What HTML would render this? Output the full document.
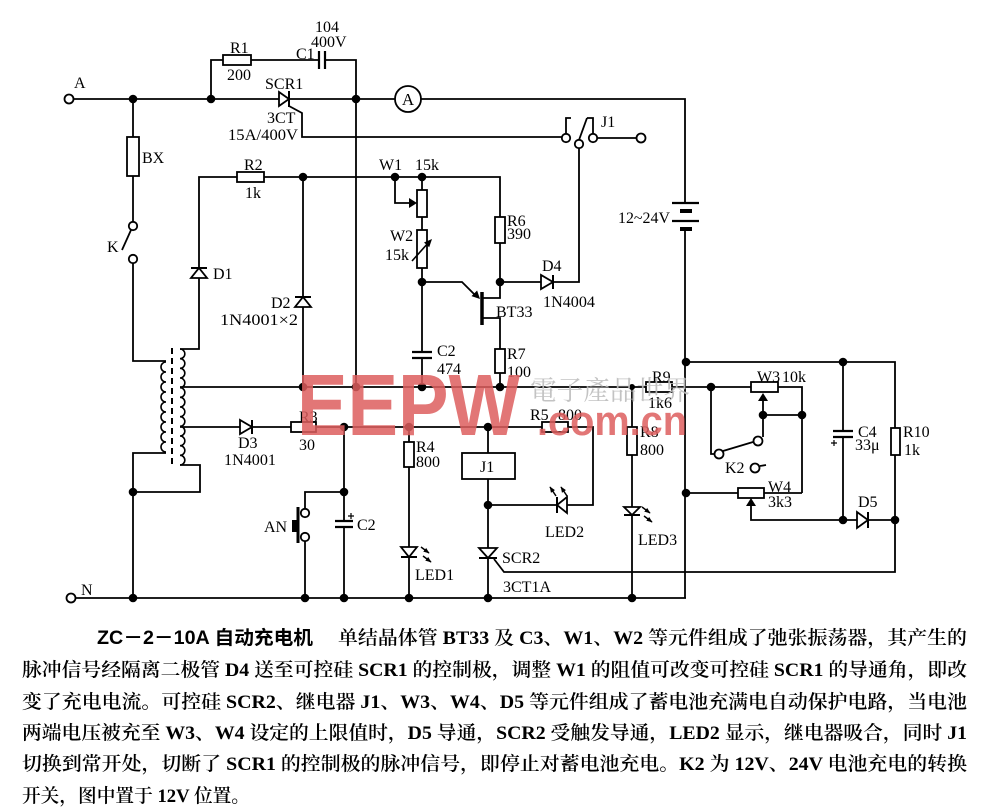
<!DOCTYPE html>
<html>
<head>
<meta charset="utf-8">
<style>
  html,body{margin:0;padding:0;background:#fff;}
  svg{display:block;}
  .t{font-family:"Liberation Serif","Noto Serif CJK SC",serif;font-size:16px;fill:#000;}
  .c{font-family:"Liberation Serif","Noto Serif CJK SC",serif;font-size:19px;fill:#000;font-weight:600;}
  .h{font-family:"Liberation Sans","Noto Sans CJK SC",sans-serif;font-size:19px;fill:#000;font-weight:bold;}
</style>
</head>
<body>
<svg width="986" height="811" viewBox="0 0 986 811" xmlns="http://www.w3.org/2000/svg">
<defs>
  <marker id="ah" viewBox="0 0 10 10" refX="9" refY="5" markerWidth="6" markerHeight="6" markerUnits="userSpaceOnUse" orient="auto">
    <path d="M0,1 L10,5 L0,9 z" fill="#000"/>
  </marker>
</defs>
<rect width="986" height="811" fill="#fff"/>

<!-- WIRES -->
<g stroke="#000" stroke-width="1.8" fill="none" stroke-linejoin="miter">
  <path d="M74,99 H280"/>
  <path d="M288,99 H395"/>
  <path d="M421,99 H685 V203"/>
  <path d="M211,99 V60 H223"/>
  <path d="M251,60 H319"/>
  <path d="M325,60 H356 V387"/>
  <path d="M289,106 L302,113 V137 H562"/>
  <path d="M597,138 H637"/>
  <path d="M566,134 V118 H571"/>
  <path d="M593,134 V118 H587"/>
  <path d="M579,140 L587,118"/>
  <path d="M579,148 V282 H500"/>
  <path d="M685,229 V598"/>
  <path d="M133,99 V222"/>
  <path d="M133,263 V361 H166"/>
  <path d="M166,453 H133 V598"/>
  <path d="M122,250 L131,230"/>
  <path d="M180,349 H199 V177 H500 V282"/>
  <path d="M180,387 H751"/>
  <path d="M778,387 H802 V493"/>
  <path d="M180,427 H593 V505 H488"/>
  <path d="M180,465 H200 V492 H133"/>
  <path d="M303,177 V387"/>
  <path d="M422,177 V352"/>
  <path d="M422,358 V387"/>
  <path d="M395,177 V203 H411"/>
  <path d="M422,282 H462 L475,295"/>
  <path d="M482,298 H500 V282"/>
  <path d="M482,318 H500 V387"/>
  <path d="M488,427 V598"/>
  <path d="M494,559 L504,572 H895 V362 H686"/>
  <path d="M409,427 V598"/>
  <path d="M344,427 V521"/>
  <path d="M344,527 V598"/>
  <path d="M344,492 H305 V509"/>
  <path d="M305,541 V598"/>
  <path d="M632,387 V598"/>
  <path d="M75,598 H686"/>
  <path d="M843,362 V431"/>
  <path d="M843,437 V520 H895"/>
  <path d="M686,493 H802"/>
  <path d="M751,505 V520 H843"/>
  <path d="M763,400 V437"/>
  <path d="M763,415 H802"/>
  <path d="M711,387 V454 H715"/>
  <path d="M723,451 L753,442"/>
  <path d="M760,466 L766,465"/>
  <!-- core -->
  <path d="M172,348 V466" stroke-dasharray="6,4" stroke-width="2"/>
  <!-- primary coil -->
  <path d="M166,362 a5,5 0 0 0 0,10 a5,5 0 0 0 0,10 a5,5 0 0 0 0,10 a5,5 0 0 0 0,10 a5,5 0 0 0 0,10 a5,5 0 0 0 0,10 a5,5 0 0 0 0,10 a5,5 0 0 0 0,10 a5,5 0 0 0 0,10" stroke-width="1.6"/>
  <!-- secondary coil -->
  <path d="M180,349 a4.83,4.83 0 0 1 0,9.667 a4.83,4.83 0 0 1 0,9.667 a4.83,4.83 0 0 1 0,9.667 a4.83,4.83 0 0 1 0,9.667 a4.83,4.83 0 0 1 0,9.667 a4.83,4.83 0 0 1 0,9.667 a4.83,4.83 0 0 1 0,9.667 a4.83,4.83 0 0 1 0,9.667 a4.83,4.83 0 0 1 0,9.667 a4.83,4.83 0 0 1 0,9.667 a4.83,4.83 0 0 1 0,9.667 a4.83,4.83 0 0 1 0,9.667" stroke-width="1.6"/>
</g>

<!-- COMPONENTS -->
<g stroke="#000" stroke-width="1.8" fill="#fff">
  <!-- resistors -->
  <rect x="223" y="55" width="28" height="10"/>
  <rect x="237" y="172" width="27" height="10"/>
  <rect x="127" y="137" width="12" height="39"/>
  <rect x="495" y="217" width="10" height="26"/>
  <rect x="417" y="190" width="10" height="27"/>
  <rect x="417" y="230" width="10" height="38"/>
  <rect x="495" y="349" width="10" height="24"/>
  <rect x="291" y="422" width="25" height="10"/>
  <rect x="542" y="422" width="26" height="10"/>
  <rect x="404" y="442" width="10" height="25"/>
  <rect x="627" y="427" width="10" height="28"/>
  <rect x="646" y="382" width="26" height="10"/>
  <rect x="751" y="382" width="27" height="10"/>
  <rect x="738" y="488" width="26" height="10"/>
  <rect x="891" y="428" width="9" height="27"/>
  <rect x="462" y="453" width="53" height="26"/>
  <!-- terminals / contacts -->
  <circle cx="69" cy="99" r="4.5"/>
  <circle cx="71" cy="598" r="4.5"/>
  <circle cx="133" cy="226" r="4.2"/>
  <circle cx="133" cy="259" r="4.2"/>
  <circle cx="566" cy="138" r="4.2"/>
  <circle cx="593" cy="138" r="4.2"/>
  <circle cx="579" cy="144" r="4.2"/>
  <circle cx="641" cy="138" r="4.5"/>
  <circle cx="305" cy="513" r="4.2"/>
  <circle cx="305" cy="537" r="4.2"/>
  <circle cx="719" cy="454" r="4.5"/>
  <circle cx="758" cy="441" r="4.5"/>
  <circle cx="755" cy="468" r="4.5"/>
  <circle cx="408" cy="99" r="13"/>
  <!-- diodes -->
  <polygon points="191,278 207,278 199,268"/>
  <polygon points="295,307 311,307 303,297"/>
  <polygon points="240,420 240,434 252,427"/>
  <polygon points="541,275 541,289 553,282"/>
  <polygon points="857,512 857,528 868,520"/>
  <polygon points="567,497 567,513 557,505"/>
  <polygon points="279,92 279,106 289,99"/>
  <polygon points="401,547 417,547 409,557"/>
  <polygon points="479,548 497,548 488,558"/>
  <polygon points="624,507 640,507 632,515"/>
</g>
<g stroke="#000" stroke-width="2" fill="none">
  <path d="M191,268 H207"/>
  <path d="M295,297 H311"/>
  <path d="M252,420 V434"/>
  <path d="M553,275 V289"/>
  <path d="M868,512 V528"/>
  <path d="M557,497 V513"/>
  <path d="M289,91 V107"/>
  <path d="M401,557 H417"/>
  <path d="M479,558 H497"/>
  <path d="M624,515 H640"/>
  <!-- capacitors -->
  <path d="M319,51 V69 M325,51 V69" stroke-width="2.2"/>
  <path d="M412,352 H432 M412,358 H432" stroke-width="2.2"/>
  <path d="M335,521 H353 M335,527 H353" stroke-width="2.2"/>
  <path d="M833,431 H853 M833,437 H853" stroke-width="2.2"/>
  <path d="M348,516 H354 M351,513 V519" stroke-width="1.2"/>
  <path d="M831,443 H837 M834,440 V446" stroke-width="1.2"/>
  <!-- battery -->
  <path d="M672,203 H699 M672,221 H699" stroke-width="2.2"/>
  <path d="M680,211 H692 M680,229 H692" stroke-width="4"/>
  <!-- UJT bar -->
  <path d="M482,292 V325" stroke-width="3.5"/>
  <!-- AN push button -->
  <path d="M298,507 V543" stroke-width="3"/>
  <!-- W2 variable -->
  <path d="M412,261 L429,242" stroke-width="1.6"/>
  <!-- LED arrows -->
  <path d="M421,547 L429,553" stroke-width="1.5" marker-end="url(#ah)"/>
  <path d="M423,556 L431,562" stroke-width="1.5" marker-end="url(#ah)"/>
  <path d="M642,507 L650,513" stroke-width="1.5" marker-end="url(#ah)"/>
  <path d="M644,516 L652,522" stroke-width="1.5" marker-end="url(#ah)"/>
  <path d="M556,496 L550,487" stroke-width="1.5" marker-end="url(#ah)"/>
  <path d="M567,496 L561,487" stroke-width="1.5" marker-end="url(#ah)"/>
</g>
<g fill="#000">
  <rect x="292" y="520" width="6" height="12"/>
  <polygon points="417,203 409,198 409,208"/>
  <polygon points="763,393 758,401 768,401"/>
  <polygon points="751,498 746,506 756,506"/>
  <polygon points="480,299 477.1,290.5 471.5,296.1"/>
  <polygon points="432,239 429.2,247.3 424,242.5"/>
  <!-- junctions -->
  <circle cx="133" cy="99" r="4.3"/>
  <circle cx="211" cy="99" r="4.3"/>
  <circle cx="356" cy="99" r="4.3"/>
  <circle cx="303" cy="177" r="4.3"/>
  <circle cx="395" cy="177" r="4.3"/>
  <circle cx="422" cy="177" r="4.3"/>
  <circle cx="422" cy="282" r="4.3"/>
  <circle cx="500" cy="282" r="4.3"/>
  <circle cx="303" cy="387" r="4.3"/>
  <circle cx="356" cy="387" r="4.3"/>
  <circle cx="422" cy="387" r="4.3"/>
  <circle cx="500" cy="387" r="4.3"/>
  <circle cx="711" cy="387" r="4.3"/>
  <circle cx="632" cy="387" r="3"/>
  <circle cx="344" cy="427" r="4.3"/>
  <circle cx="409" cy="427" r="4.3"/>
  <circle cx="488" cy="427" r="4.3"/>
  <circle cx="133" cy="492" r="4.3"/>
  <circle cx="344" cy="492" r="4.3"/>
  <circle cx="488" cy="505" r="4.3"/>
  <circle cx="133" cy="598" r="4.3"/>
  <circle cx="305" cy="598" r="4.3"/>
  <circle cx="344" cy="598" r="4.3"/>
  <circle cx="409" cy="598" r="4.3"/>
  <circle cx="488" cy="598" r="4.3"/>
  <circle cx="632" cy="598" r="4.3"/>
  <circle cx="686" cy="362" r="4.3"/>
  <circle cx="843" cy="362" r="4.3"/>
  <circle cx="686" cy="493" r="4.3"/>
  <circle cx="763" cy="415" r="4.3"/>
  <circle cx="802" cy="415" r="4.3"/>
  <circle cx="843" cy="520" r="4.3"/>
  <circle cx="895" cy="520" r="4.3"/>
</g>

<!-- LABELS -->
<g class="t">
  <text x="74" y="88">A</text>
  <text x="81" y="595">N</text>
  <text x="230" y="53">R1</text>
  <text x="227" y="80">200</text>
  <text x="296" y="59">C1</text>
  <text x="315" y="32">104</text>
  <text x="311" y="47">400V</text>
  <text x="265" y="89">SCR1</text>
  <text x="267" y="123">3CT</text>
  <text x="228" y="140" textLength="70" lengthAdjust="spacingAndGlyphs">15A/400V</text>
  <text x="142" y="163">BX</text>
  <text x="107" y="252">K</text>
  <text x="213" y="279">D1</text>
  <text x="244" y="170">R2</text>
  <text x="245" y="198">1k</text>
  <text x="271" y="308">D2</text>
  <text x="220" y="325" textLength="78" lengthAdjust="spacingAndGlyphs">1N4001×2</text>
  <text x="379" y="170">W1</text>
  <text x="415" y="170">15k</text>
  <text x="390" y="241">W2</text>
  <text x="385" y="260">15k</text>
  <text x="507" y="226">R6</text>
  <text x="507" y="239">390</text>
  <text x="542" y="271">D4</text>
  <text x="543" y="307" textLength="52" lengthAdjust="spacingAndGlyphs">1N4004</text>
  <text x="496" y="317">BT33</text>
  <text x="601" y="127">J1</text>
  <text x="618" y="223" textLength="52" lengthAdjust="spacingAndGlyphs">12~24V</text>
  <text x="507" y="359">R7</text>
  <text x="507" y="377">100</text>
  <text x="437" y="356">C2</text>
  <text x="437" y="374">474</text>
  <text x="238" y="448">D3</text>
  <text x="224" y="465" textLength="52" lengthAdjust="spacingAndGlyphs">1N4001</text>
  <text x="299" y="422">R3</text>
  <text x="299" y="450">30</text>
  <text x="416" y="452">R4</text>
  <text x="416" y="467">800</text>
  <text x="480" y="472">J1</text>
  <text x="264" y="532">AN</text>
  <text x="357" y="530">C2</text>
  <text x="415" y="580">LED1</text>
  <text x="502" y="563">SCR2</text>
  <text x="503" y="592">3CT1A</text>
  <text x="545" y="537">LED2</text>
  <text x="638" y="545">LED3</text>
  <text x="530" y="420">R5</text>
  <text x="558" y="420">800</text>
  <text x="640" y="437">R8</text>
  <text x="640" y="455">800</text>
  <text x="652" y="382">R9</text>
  <text x="648" y="408">1k6</text>
  <text x="757" y="382">W3</text>
  <text x="782" y="382">10k</text>
  <text x="858" y="437">C4</text>
  <text x="855" y="450">33μ</text>
  <text x="903" y="437">R10</text>
  <text x="904" y="455">1k</text>
  <text x="768" y="492">W4</text>
  <text x="768" y="507">3k3</text>
  <text x="858" y="507">D5</text>
  <text x="725" y="473">K2</text>
  <text x="408" y="105" text-anchor="middle" font-size="17">A</text>
</g>

<!-- WATERMARK -->
<g opacity="0.85">
  <text x="297" y="435" textLength="223" lengthAdjust="spacingAndGlyphs" font-family="Liberation Sans, sans-serif" font-weight="bold" font-size="87" fill="rgb(222,95,95)">EEPW</text>
  <text x="537" y="435" textLength="150" lengthAdjust="spacingAndGlyphs" font-family="Liberation Sans, sans-serif" font-weight="bold" font-size="42" fill="rgb(222,95,95)">.com.cn</text>
</g>
<text x="530" y="400" textLength="160" lengthAdjust="spacingAndGlyphs" font-family="Liberation Serif, 'Noto Serif CJK TC', serif" font-size="27" fill="#bdbdbd" opacity="0.9">電子產品世界</text>

<!-- CAPTION -->
<text class="h" x="97" y="644" textLength="216" lengthAdjust="spacingAndGlyphs">ZC－2－10A 自动充电机</text>
<text class="c" x="338" y="644" textLength="629" lengthAdjust="spacingAndGlyphs">单结晶体管 BT33 及 C3、W1、W2 等元件组成了弛张振荡器，其产生的</text>
<text class="c" x="22" y="676" textLength="945" lengthAdjust="spacingAndGlyphs">脉冲信号经隔离二极管 D4 送至可控硅 SCR1 的控制极，调整 W1 的阻值可改变可控硅 SCR1 的导通角，即改</text>
<text class="c" x="22" y="708" textLength="945" lengthAdjust="spacingAndGlyphs">变了充电电流。可控硅 SCR2、继电器 J1、W3、W4、D5 等元件组成了蓄电池充满电自动保护电路，当电池</text>
<text class="c" x="22" y="739" textLength="945" lengthAdjust="spacingAndGlyphs">两端电压被充至 W3、W4 设定的上限值时，D5 导通，SCR2 受触发导通，LED2 显示，继电器吸合，同时 J1</text>
<text class="c" x="22" y="770" textLength="945" lengthAdjust="spacingAndGlyphs">切换到常开处，切断了 SCR1 的控制极的脉冲信号，即停止对蓄电池充电。K2 为 12V、24V 电池充电的转换</text>
<text class="c" x="22" y="802" textLength="228" lengthAdjust="spacingAndGlyphs">开关，图中置于 12V 位置。</text>
</svg>
</body>
</html>
